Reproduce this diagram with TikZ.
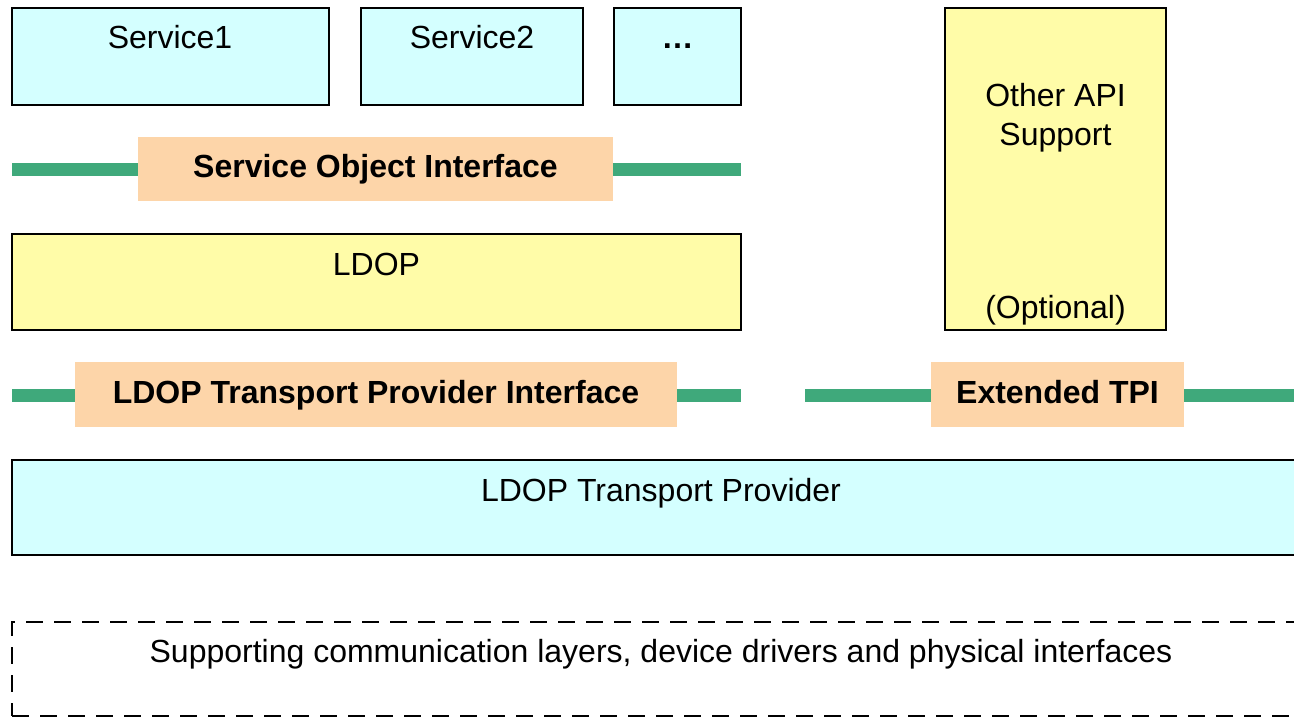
\documentclass[tikz,border=0pt]{standalone}
\usepackage{fontspec}
\setmainfont{Liberation Sans}
\usetikzlibrary{fit}

\definecolor{svccyan}{HTML}{D4FFFF}
\definecolor{ldopyellow}{HTML}{FFFCA8}
\definecolor{ifaceorange}{HTML}{FDD5A9}
\definecolor{busgreen}{HTML}{3FA97B}

\begin{document}
\begin{tikzpicture}[x=0.5pt,y=-0.5pt,
  every node/.style={font=\fontsize{16}{19.2}\selectfont},
  layerbox/.style={draw=black, line width=1pt, inner sep=0pt, outer sep=0pt},
  cyanbox/.style={layerbox, fill=svccyan},
  yellowbox/.style={layerbox, fill=ldopyellow},
  ifacebox/.style={fill=ifaceorange, inner sep=0pt, outer sep=0pt},
  bus/.style={draw=busgreen, line width=6.25pt},
  dashedbox/.style={draw=black, line width=1pt, dash pattern=on 8.5pt off 5.5pt, inner sep=0pt, outer sep=0pt},
  txt/.style={anchor=base, inner sep=0pt},
  boldtxt/.style={txt, font=\fontsize{16}{19.2}\selectfont\bfseries}]

% page area
\clip (0,0) rectangle (1294,717);
\fill[white] (0,0) rectangle (1294,717);

% service objects
\node[cyanbox, fit={(12,8) (329,105)}] (svc1) {};
\node[cyanbox, fit={(361,8) (583,105)}] (svc2) {};
\node[cyanbox, fit={(614,8) (741,105)}] (svcmore) {};
\node[txt] (svc1t) at (170,49) {Service1};
\node[txt] (svc2t) at (472,49) {Service2};
\node[boldtxt] (svcmoret) at (677.5,49) {…};

% other API support column
\node[yellowbox, fit={(945,8) (1166,330)}] (api) {};
\node[txt] (apit1) at (1055.5,106) {Other API};
\node[txt] (apit2) at (1055.5,145) {Support};
\node[txt] (apit3) at (1055.5,318) {(Optional)};

% service object interface
\coordinate (sbusL) at (12,169.5);
\coordinate (sbusR) at (741,169.5);
\draw[bus] (sbusL) -- (sbusR);
\node[ifacebox, fit={(138,137) (613,201)}] (soi) {};
\node[boldtxt] (soit) at (375.5,177) {Service Object Interface};

% LDOP
\node[yellowbox, fit={(12,234) (741,330)}] (ldop) {};
\node[txt] (ldopt) at (376.5,275) {LDOP};

% transport provider interfaces
\coordinate (tbusL) at (12,395.3);
\coordinate (tbusR) at (741,395.3);
\draw[bus] (tbusL) -- (tbusR);
\node[ifacebox, fit={(75,362) (677,427)}] (tpi) {};
\node[boldtxt] (tpit) at (376,403) {LDOP Transport Provider Interface};

\coordinate (ebusL) at (805,395.3);
\coordinate (ebusR) at (1300,395.3);
\draw[bus] (ebusL) -- (ebusR);
\node[ifacebox, fit={(931,362) (1184,427)}] (etpi) {};
\node[boldtxt] (etpit) at (1057.5,403) {Extended TPI};

% transport provider
\node[cyanbox, fit={(12,460) (1310,555)}] (tp) {};
\node[txt] (tpt) at (661,501.5) {LDOP Transport Provider};

% supporting layers
\node[dashedbox, fit={(12,621.5) (1310,716)}] (support) {};
\node[txt] (supportt) at (661,662) {Supporting communication layers, device drivers and physical interfaces};
\end{tikzpicture}
\end{document}
